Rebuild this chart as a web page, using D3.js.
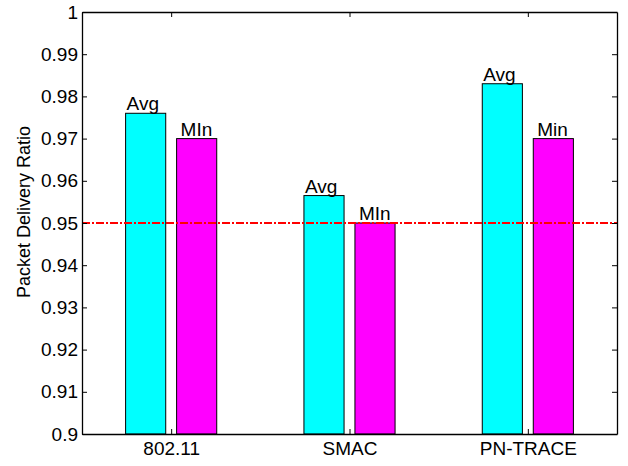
<!DOCTYPE html>
<html>
<head>
<meta charset="utf-8">
<script src="https://cdn.jsdelivr.net/npm/d3@7"></script>
<style>
  html, body { margin: 0; padding: 0; background: #fff; }
  svg text { font-family: Arial, "Liberation Sans", Helvetica, sans-serif; fill: #000; }
</style>
</head>
<body>
<svg id="chart" width="628" height="466"></svg>
<script>
// Protocols on the x axis
const protocols = ["802.11", "SMAC", "PN-TRACE"];
// Average and minimum packet delivery ratio per protocol
const avgValues = [0.976, 0.9565, 0.983];
const minValues = [0.970, 0.950, 0.970];
// Labels printed above each bar
const avgLabels = ["Avg", "Avg", "Avg"];
const minLabels = ["MIn", "MIn", "Min"];
// Required delivery threshold
const threshold = 0.95;
// Y axis ticks
const yTicks = [0.9, 0.91, 0.92, 0.93, 0.94, 0.95, 0.96, 0.97, 0.98, 0.99, 1];
const yTickLabels = ["0.9", "0.91", "0.92", "0.93", "0.94", "0.95", "0.96", "0.97", "0.98", "0.99", "1"];

const svg = d3.select("#chart");
const plotLeft = 82, plotRight = 617, plotTop = 12, plotBottom = 434;
const FONT = 19;

const x = d3.scaleLinear().domain([0.5, protocols.length + 0.5]).range([plotLeft, plotRight]);
const y = d3.scaleLinear().domain([0.9, 1]).range([plotBottom, plotTop]);

const barOffset = 0.143, barWidth = 0.225;
const bw = x(barWidth) - x(0);

const series = [
  { values: avgValues, labels: avgLabels, color: "#00ffff", shift: -barOffset, labelDx: 1 },
  { values: minValues, labels: minLabels, color: "#ff00ff", shift: barOffset, labelDx: 4 }
];

// plot background
svg.append("rect").attr("x", plotLeft).attr("y", plotTop)
  .attr("width", plotRight - plotLeft).attr("height", plotBottom - plotTop).attr("fill", "#fff");

series.forEach(s => {
  const g = svg.append("g");
  g.selectAll("rect").data(s.values).join("rect")
    .attr("x", (d, i) => x(i + 1 + s.shift) - bw / 2)
    .attr("y", d => y(d))
    .attr("width", bw)
    .attr("height", d => y(0.9) - y(d))
    .attr("fill", s.color)
    .attr("stroke", "#000")
    .attr("stroke-width", 1);
  g.selectAll("text").data(s.values).join("text")
    .attr("x", (d, i) => x(i + 1 + s.shift) - bw / 2 + s.labelDx)
    .attr("y", d => y(d) - 3)
    .attr("font-size", FONT)
    .text((d, i) => s.labels[i]);
});

// threshold line
svg.append("line")
  .attr("x1", plotLeft).attr("x2", plotRight)
  .attr("y1", y(threshold)).attr("y2", y(threshold))
  .attr("stroke", "#ff0000").attr("stroke-width", 2)
  .attr("stroke-dasharray", "8,2,2,2");

// axes
const fmtY = d => yTickLabels[yTicks.indexOf(d)];
const tickVals = protocols.map((p, i) => i + 1);

const yAxisL = svg.append("g").attr("transform", `translate(${plotLeft},0)`)
  .call(d3.axisLeft(y).tickValues(yTicks).tickFormat(fmtY).tickSizeInner(-5).tickSizeOuter(0).tickPadding(4));
const yAxisR = svg.append("g").attr("transform", `translate(${plotRight},0)`)
  .call(d3.axisRight(y).tickValues(yTicks).tickFormat("").tickSizeInner(-5).tickSizeOuter(0));
const xAxisB = svg.append("g").attr("transform", `translate(0,${plotBottom})`)
  .call(d3.axisBottom(x).tickValues(tickVals).tickFormat(d => protocols[d - 1]).tickSizeInner(-5).tickSizeOuter(0).tickPadding(8));
const xAxisT = svg.append("g").attr("transform", `translate(0,${plotTop})`)
  .call(d3.axisTop(x).tickValues(tickVals).tickFormat("").tickSizeInner(-5).tickSizeOuter(0));

[yAxisL, yAxisR, xAxisB, xAxisT].forEach(a => {
  a.select(".domain").attr("stroke", "#000").attr("stroke-width", 1.3);
  a.selectAll(".tick line").attr("stroke", "#000");
  a.selectAll(".tick text").attr("font-size", FONT).attr("font-family", "Arial, 'Liberation Sans', sans-serif").attr("fill", "#000");
});

// axis title
svg.append("text")
  .attr("transform", "translate(30,212) rotate(-90)")
  .attr("text-anchor", "middle")
  .attr("font-size", 18)
  .text("Packet Delivery Ratio");
</script>
</body>
</html>
